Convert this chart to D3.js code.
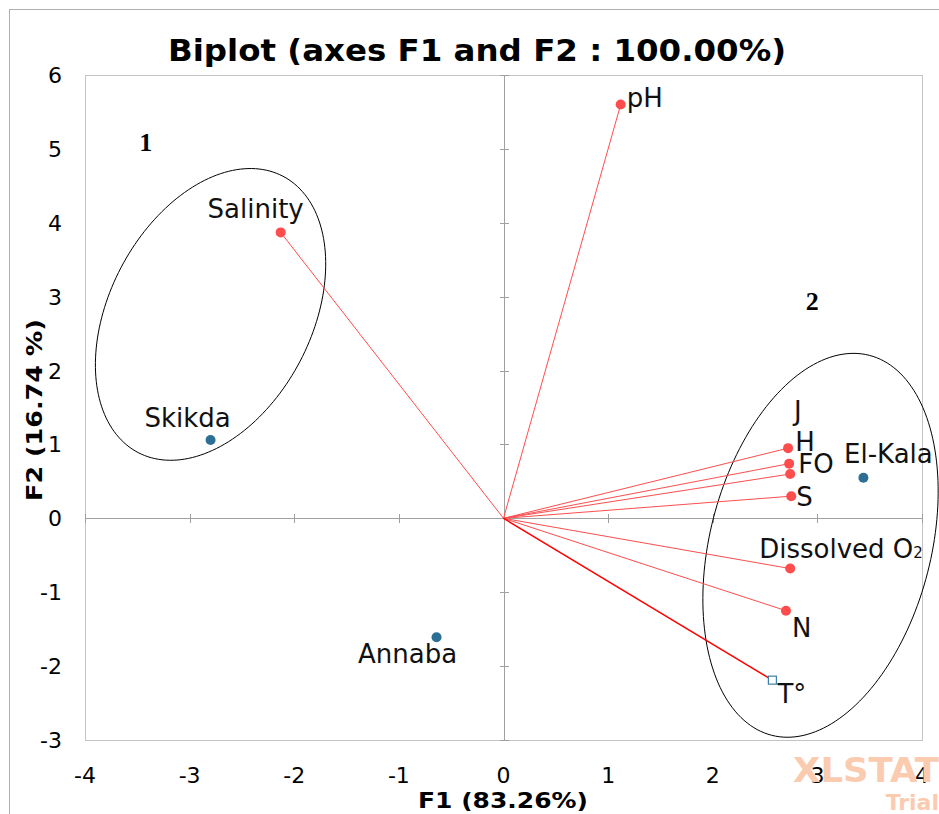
<!DOCTYPE html>
<html>
<head>
<meta charset="utf-8">
<script src="https://cdn.jsdelivr.net/npm/d3@7"></script>
<style>
  body { margin: 0; background: #fff; }
  text { font-family: "DejaVu Sans", Verdana, sans-serif; }
</style>
</head>
<body>
<div id="chart"></div>
<script>
// variables (red vectors)
let varNames = ["pH", "Salinity", "J", "H", "FO", "S", "Dissolved O2", "N", "T°"]
let varF1 = [1.12, -2.13, 2.72, 2.73, 2.74, 2.75, 2.74, 2.70, 2.57]
let varF2 = [5.60, 3.87, 0.95, 0.74, 0.60, 0.30, -0.68, -1.25, -2.19]

// observations (blue points)
let obsNames = ["Skikda", "Annaba", "El-Kala"]
let obsF1 = [-2.80, -0.64, 3.44]
let obsF2 = [1.06, -1.61, 0.55]

let xTicks = [-4, -3, -2, -1, 0, 1, 2, 3, 4]
let yTicks = [-3, -2, -1, 0, 1, 2, 3, 4, 5, 6]

// group ellipses: centre, half major axis, half minor axis (data units)
let groupNames = ["1", "2"]
let groupCx = [-2.80, 3.03]
let groupCy = [2.76, -0.365]
let groupMajor = [[0.692, 1.870], [0.467, 2.571]]
let groupMinor = [[0.856, -0.633], [1.023, -0.372]]
let groupLabelX = [-3.42, 2.95]
let groupLabelY = [5.0, 2.85]

// label offsets in px (dx, dy, anchor)
let varLabelPos = {
    "pH": [6, 2, "start"], "Salinity": [-25, -14, "middle"], "J": [6, -28, "start"],
    "H": [6, -13, "start"], "FO": [8, -1, "start"], "S": [5, 10, "start"],
    "Dissolved O2": [-31, -11, "start"], "N": [6, 26, "start"], "T°": [5, 23, "start"]
}
let obsLabelPos = { "Skikda": [-23, -13], "Annaba": [-29, 26], "El-Kala": [25, -15] }

let W = 939, H = 814
let plotLeft = 85, plotRight = 922, plotTop = 75, plotBottom = 740

let svg = d3.select("#chart").append("svg")
    .attr("width", W).attr("height", H)

// outer frame
svg.append("rect")
    .attr("x", 9.5).attr("y", 9.5).attr("width", W).attr("height", H)
    .attr("fill", "none").attr("stroke", "#b0b0b0")

let x = d3.scaleLinear().domain([-4, 4]).range([plotLeft, plotRight])
let y = d3.scaleLinear().domain([-3, 6]).range([plotBottom, plotTop])

// plot border
svg.append("rect")
    .attr("x", plotLeft + 0.5).attr("y", plotTop + 0.5)
    .attr("width", plotRight - plotLeft).attr("height", plotBottom - plotTop)
    .attr("fill", "none").attr("stroke", "#c4c4c4")

// zero lines
svg.append("line")
    .attr("x1", plotLeft).attr("x2", plotRight)
    .attr("y1", Math.round(y(0)) + 0.5).attr("y2", Math.round(y(0)) + 0.5)
    .attr("stroke", "#a0a0a0")
svg.append("line")
    .attr("x1", Math.round(x(0)) + 0.5).attr("x2", Math.round(x(0)) + 0.5)
    .attr("y1", plotTop).attr("y2", plotBottom)
    .attr("stroke", "#a0a0a0")

// small ticks on zero lines
svg.selectAll("yTick").data(yTicks).enter().append("line")
    .attr("x1", Math.round(x(0)) - 4).attr("x2", Math.round(x(0)) + 5)
    .attr("y1", function (d) { return Math.round(y(d)) + 0.5 })
    .attr("y2", function (d) { return Math.round(y(d)) + 0.5 })
    .attr("stroke", "#a0a0a0")
svg.selectAll("xTick").data(xTicks).enter().append("line")
    .attr("y1", Math.round(y(0)) - 4).attr("y2", Math.round(y(0)) + 5)
    .attr("x1", function (d) { return Math.round(x(d)) + 0.5 })
    .attr("x2", function (d) { return Math.round(x(d)) + 0.5 })
    .attr("stroke", "#a0a0a0")

// tick labels
svg.selectAll("xLab").data(xTicks).enter().append("text")
    .attr("x", function (d) { return x(d) })
    .attr("y", 783)
    .attr("text-anchor", "middle")
    .style("font-size", "22px")
    .text(function (d) { return d })
svg.selectAll("yLab").data(yTicks).enter().append("text")
    .attr("x", 62)
    .attr("y", function (d) { return y(d) + 8 })
    .attr("text-anchor", "end")
    .style("font-size", "22px")
    .text(function (d) { return d })

// titles
svg.append("text")
    .attr("x", 477).attr("y", 61)
    .attr("text-anchor", "middle")
    .attr("textLength", 618).attr("lengthAdjust", "spacingAndGlyphs")
    .style("font-size", "30px").style("font-weight", "bold")
    .text("Biplot (axes F1 and F2 : 100.00%)")
svg.append("text")
    .attr("x", 503).attr("y", 808)
    .attr("text-anchor", "middle")
    .attr("textLength", 170).attr("lengthAdjust", "spacingAndGlyphs")
    .style("font-size", "22px").style("font-weight", "bold")
    .text("F1 (83.26%)")
svg.append("text")
    .attr("transform", "translate(42,410) rotate(-90)")
    .attr("text-anchor", "middle")
    .attr("textLength", 182).attr("lengthAdjust", "spacingAndGlyphs")
    .style("font-size", "22px").style("font-weight", "bold")
    .text("F2 (16.74 %)")

// watermark
svg.append("text")
    .attr("x", 939).attr("y", 782)
    .attr("text-anchor", "end")
    .style("font-size", "34px").style("font-weight", "bold")
    .style("fill", "#fbcbb0")
    .attr("textLength", 146).attr("lengthAdjust", "spacingAndGlyphs")
    .text("XLSTAT")
svg.append("text")
    .attr("x", 939).attr("y", 810)
    .attr("text-anchor", "end")
    .style("font-size", "22px").style("font-weight", "bold")
    .style("fill", "#fbcbb0")
    .text("Trial")

// ellipses
let ellipseLine = d3.line()
    .x(function (d) { return x(d[0]) })
    .y(function (d) { return y(d[1]) })
    .curve(d3.curveLinearClosed)
groupNames.forEach(function (g, i) {
    let pts = d3.range(0, 360, 2).map(function (deg) {
        let t = deg * Math.PI / 180
        return [groupCx[i] + groupMajor[i][0] * Math.cos(t) + groupMinor[i][0] * Math.sin(t),
                groupCy[i] + groupMajor[i][1] * Math.cos(t) + groupMinor[i][1] * Math.sin(t)]
    })
    svg.append("path")
        .attr("d", ellipseLine(pts))
        .attr("fill", "none").attr("stroke", "#000").attr("stroke-width", 1)
})

// group numbers
svg.selectAll("grpLab").data(groupNames).enter().append("text")
    .attr("x", function (d, i) { return x(groupLabelX[i]) })
    .attr("y", function (d, i) { return y(groupLabelY[i]) + 2 })
    .attr("text-anchor", "middle")
    .style("font-family", "'Liberation Serif', 'Times New Roman', serif")
    .style("font-size", "26px").style("font-weight", "bold")
    .text(function (d) { return d })

// vectors
let vars = varNames.map(function (n, i) { return { name: n, f1: varF1[i], f2: varF2[i] } })
svg.selectAll("vecLine").data(vars).enter().append("line")
    .attr("x1", x(0)).attr("y1", y(0))
    .attr("x2", function (d) { return x(d.f1) })
    .attr("y2", function (d) { return y(d.f2) })
    .attr("stroke", function (d) { return d.name == "T°" ? "#ff0000" : "#ff4d4d" })
    .attr("stroke-width", function (d) { return d.name == "T°" ? 1.5 : 1 })

svg.selectAll("vecDot").data(vars.filter(function (d) { return d.name != "T°" })).enter().append("circle")
    .attr("cx", function (d) { return x(d.f1) })
    .attr("cy", function (d) { return y(d.f2) })
    .attr("r", 5)
    .attr("fill", "#ff4d4d")

svg.selectAll("vecSq").data(vars.filter(function (d) { return d.name == "T°" })).enter().append("rect")
    .attr("x", function (d) { return x(d.f1) - 4 })
    .attr("y", function (d) { return y(d.f2) - 4 })
    .attr("width", 8).attr("height", 8)
    .attr("fill", "#fff").attr("stroke", "#3a80a8").attr("stroke-width", 1.2)

let vLab = svg.selectAll("vecLab").data(vars).enter().append("text")
    .attr("x", function (d) { return x(d.f1) + varLabelPos[d.name][0] })
    .attr("y", function (d) { return y(d.f2) + varLabelPos[d.name][1] })
    .attr("text-anchor", function (d) { return varLabelPos[d.name][2] })
    .style("font-size", "26px")
    .style("fill", "#111")
vLab.each(function (d) {
    let t = d3.select(this)
    if (d.name == "Dissolved O2") {
        t.append("tspan").text("Dissolved O")
        t.append("tspan").style("font-size", "15px").text("2")
    } else {
        t.text(d.name)
    }
})

// observations
let obs = obsNames.map(function (n, i) { return { name: n, f1: obsF1[i], f2: obsF2[i] } })
svg.selectAll("obsDot").data(obs).enter().append("circle")
    .attr("cx", function (d) { return x(d.f1) })
    .attr("cy", function (d) { return y(d.f2) })
    .attr("r", 5)
    .attr("fill", "#2c6e94")
svg.selectAll("obsLab").data(obs).enter().append("text")
    .attr("x", function (d) { return x(d.f1) + obsLabelPos[d.name][0] })
    .attr("y", function (d) { return y(d.f2) + obsLabelPos[d.name][1] })
    .attr("text-anchor", "middle")
    .style("font-size", "26px")
    .style("fill", "#111")
    .text(function (d) { return d.name })
</script>
</body>
</html>
